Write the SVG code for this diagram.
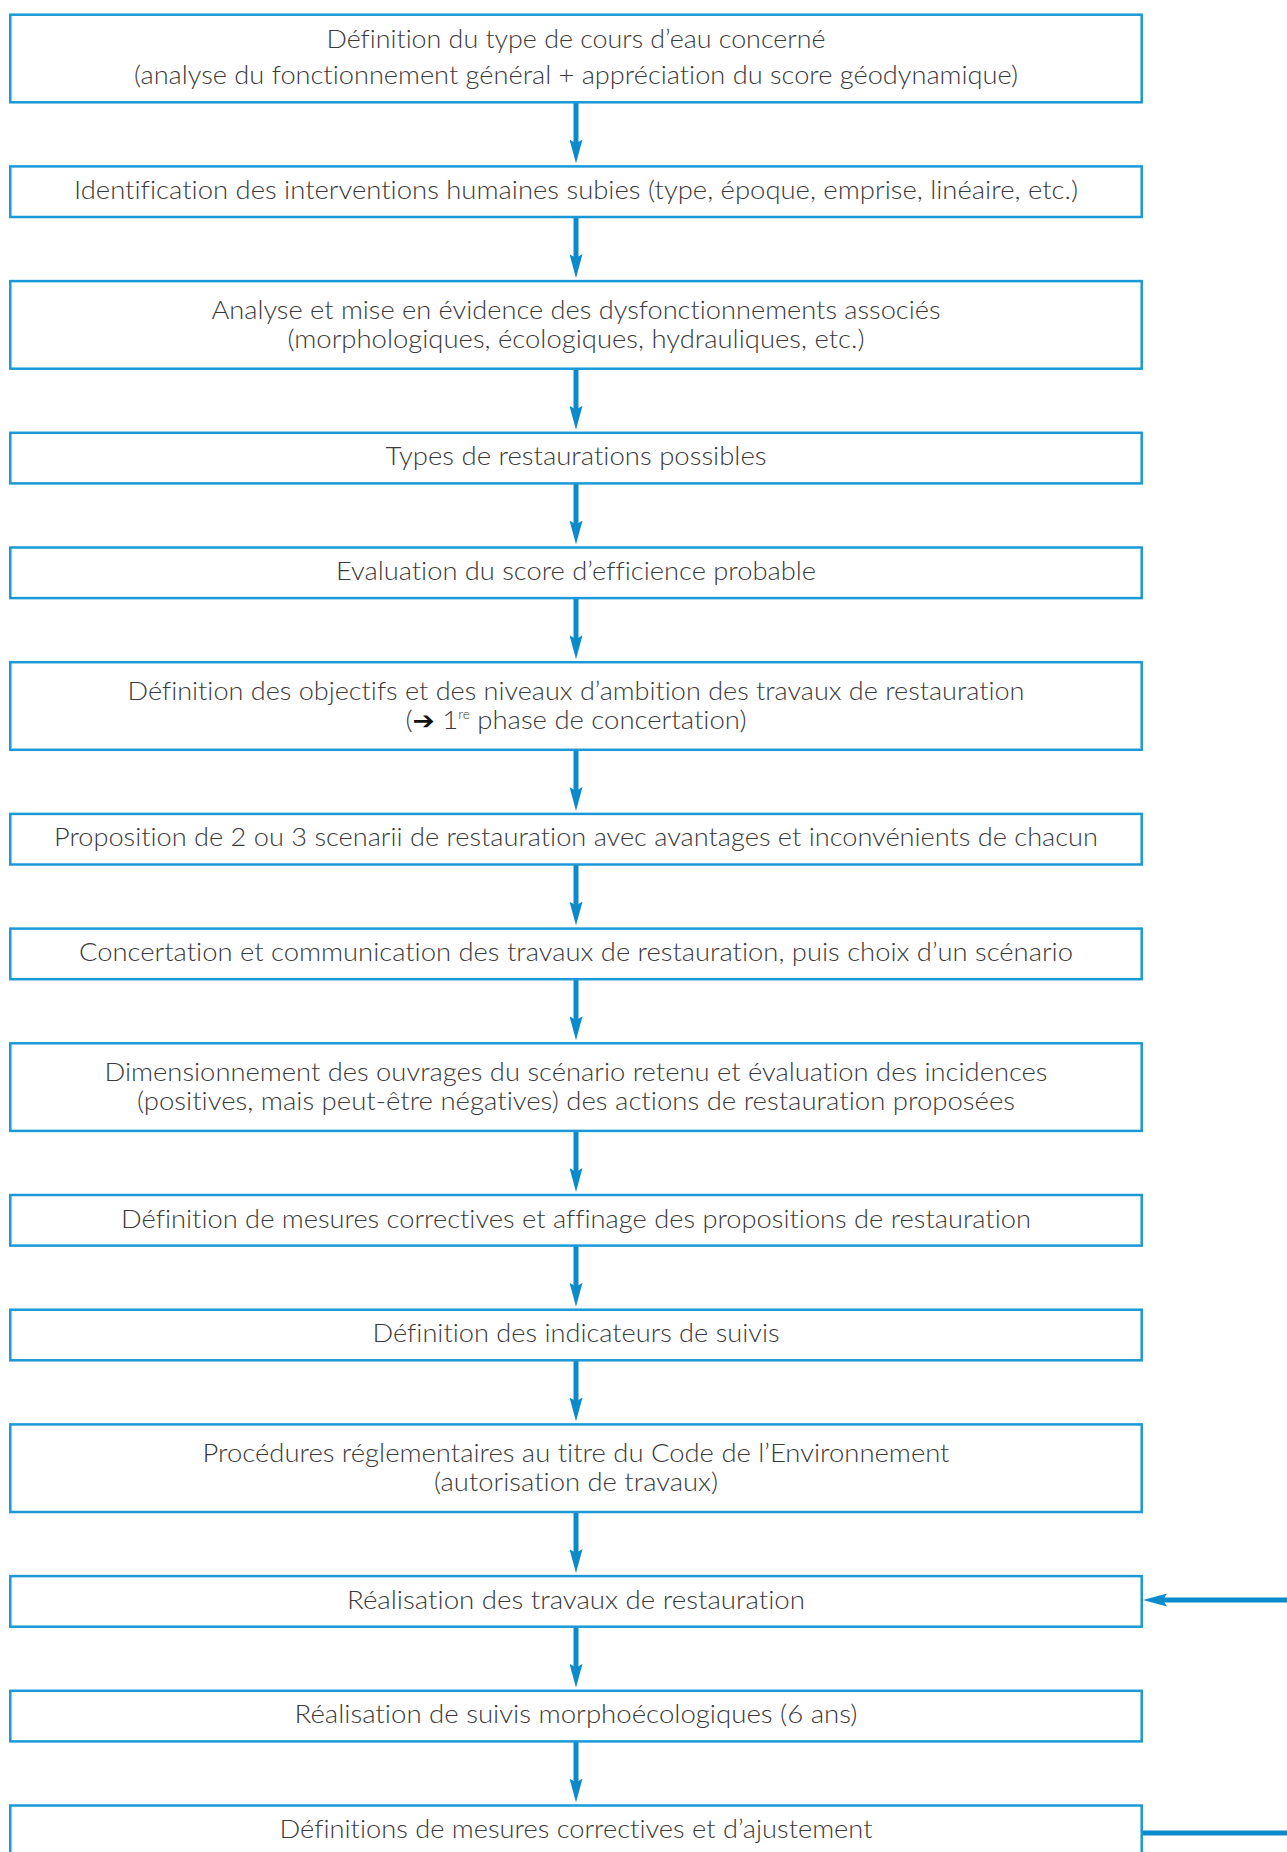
<svg xmlns="http://www.w3.org/2000/svg" width="1287" height="1852" viewBox="0 0 1287 1852">
<style>
.box{fill:#ffffff;stroke:#1a99d6;stroke-width:2.5}
.t{font-family:Lato,"Liberation Sans",sans-serif;font-weight:300;font-size:26px;fill:#3a3a3a;text-anchor:middle;font-variant-ligatures:none}
.c{stroke:#0b8bcb;stroke-width:5;fill:none}
.arr{font-family:"DejaVu Sans",sans-serif;font-weight:bold;font-size:25px;fill:#111111}
.sup{font-size:13px}
</style>
<defs>
<marker id="ah" markerUnits="userSpaceOnUse" markerWidth="24" markerHeight="13" viewBox="0 0 24 13" refX="7" refY="6.5" orient="auto">
<path d="M0,0 L24,6.5 L0,13 L4,6.5 Z" fill="#0b8bcb"/>
</marker>
</defs>
<rect width="1287" height="1852" fill="#ffffff"/>
<g id="connectors">
<line class="c" x1="576" y1="101" x2="576" y2="146.4" marker-end="url(#ah)"/>
<line class="c" x1="576" y1="216" x2="576" y2="261.1" marker-end="url(#ah)"/>
<line class="c" x1="576" y1="367.5" x2="576" y2="412.8" marker-end="url(#ah)"/>
<line class="c" x1="576" y1="482.2" x2="576" y2="527.5" marker-end="url(#ah)"/>
<line class="c" x1="576" y1="597" x2="576" y2="642.2" marker-end="url(#ah)"/>
<line class="c" x1="576" y1="748.6" x2="576" y2="793.9" marker-end="url(#ah)"/>
<line class="c" x1="576" y1="863.3" x2="576" y2="908.6" marker-end="url(#ah)"/>
<line class="c" x1="576" y1="978" x2="576" y2="1023.3" marker-end="url(#ah)"/>
<line class="c" x1="576" y1="1129.7" x2="576" y2="1175" marker-end="url(#ah)"/>
<line class="c" x1="576" y1="1244.4" x2="576" y2="1289.7" marker-end="url(#ah)"/>
<line class="c" x1="576" y1="1359.1" x2="576" y2="1404.4" marker-end="url(#ah)"/>
<line class="c" x1="576" y1="1510.8" x2="576" y2="1556.1" marker-end="url(#ah)"/>
<line class="c" x1="576" y1="1625.5" x2="576" y2="1670.8" marker-end="url(#ah)"/>
<line class="c" x1="576" y1="1740.2" x2="576" y2="1785.5" marker-end="url(#ah)"/>
<line class="c" x1="1295" y1="1600" x2="1160" y2="1600" marker-end="url(#ah)"/>
<line class="c" x1="1142" y1="1833" x2="1295" y2="1833"/>
</g>
<g id="n1"><rect class="box" x="10.3" y="14.7" width="1131.4" height="87.6"/>
<text class="t" x="576" y="48.3" textLength="499" lengthAdjust="spacingAndGlyphs">Définition du type de cours d’eau concerné</text>
<text class="t" x="576" y="84" textLength="884" lengthAdjust="spacingAndGlyphs">(analyse du fonctionnement général + appréciation du score géodynamique)</text></g>
<g id="n2"><rect class="box" x="10.3" y="166.4" width="1131.4" height="50.6"/>
<text class="t" x="576" y="198.9" textLength="1004" lengthAdjust="spacingAndGlyphs">Identification des interventions humaines subies (type, époque, emprise, linéaire, etc.)</text></g>
<g id="n3"><rect class="box" x="10.3" y="281.1" width="1131.4" height="87.6"/>
<text class="t" x="576" y="318.8" textLength="729" lengthAdjust="spacingAndGlyphs">Analyse et mise en évidence des dysfonctionnements associés</text>
<text class="t" x="576" y="347.8" textLength="577" lengthAdjust="spacingAndGlyphs">(morphologiques, écologiques, hydrauliques, etc.)</text></g>
<g id="n4"><rect class="box" x="10.3" y="432.8" width="1131.4" height="50.6"/>
<text class="t" x="576" y="465.3" textLength="381" lengthAdjust="spacingAndGlyphs">Types de restaurations possibles</text></g>
<g id="n5"><rect class="box" x="10.3" y="547.5" width="1131.4" height="50.6"/>
<text class="t" x="576" y="580" textLength="480" lengthAdjust="spacingAndGlyphs">Evaluation du score d’efficience probable</text></g>
<g id="n6"><rect class="box" x="10.3" y="662.2" width="1131.4" height="87.6"/>
<text class="t" x="576" y="699.9" textLength="897" lengthAdjust="spacingAndGlyphs">Définition des objectifs et des niveaux d’ambition des travaux de restauration</text>
<text class="t" x="576" y="728.9" textLength="341" lengthAdjust="spacingAndGlyphs">(<tspan class="arr">➔</tspan> 1<tspan class="sup" dy="-10">re</tspan><tspan dy="10"> phase de concertation)</tspan></text></g>
<g id="n7"><rect class="box" x="10.3" y="813.9" width="1131.4" height="50.6"/>
<text class="t" x="576" y="846.4" textLength="1044" lengthAdjust="spacingAndGlyphs">Proposition de 2 ou 3 scenarii de restauration avec avantages et inconvénients de chacun</text></g>
<g id="n8"><rect class="box" x="10.3" y="928.6" width="1131.4" height="50.6"/>
<text class="t" x="576" y="961.1" textLength="994" lengthAdjust="spacingAndGlyphs">Concertation et communication des travaux de restauration, puis choix d’un scénario</text></g>
<g id="n9"><rect class="box" x="10.3" y="1043.3" width="1131.4" height="87.6"/>
<text class="t" x="576" y="1081" textLength="943" lengthAdjust="spacingAndGlyphs">Dimensionnement des ouvrages du scénario retenu et évaluation des incidences</text>
<text class="t" x="576" y="1110" textLength="878" lengthAdjust="spacingAndGlyphs">(positives, mais peut-être négatives) des actions de restauration proposées</text></g>
<g id="n10"><rect class="box" x="10.3" y="1195" width="1131.4" height="50.6"/>
<text class="t" x="576" y="1227.5" textLength="910" lengthAdjust="spacingAndGlyphs">Définition de mesures correctives et affinage des propositions de restauration</text></g>
<g id="n11"><rect class="box" x="10.3" y="1309.7" width="1131.4" height="50.6"/>
<text class="t" x="576" y="1342.2" textLength="407" lengthAdjust="spacingAndGlyphs">Définition des indicateurs de suivis</text></g>
<g id="n12"><rect class="box" x="10.3" y="1424.4" width="1131.4" height="87.6"/>
<text class="t" x="576" y="1462.1" textLength="747" lengthAdjust="spacingAndGlyphs">Procédures réglementaires au titre du Code de l’Environnement</text>
<text class="t" x="576" y="1491.1" textLength="284" lengthAdjust="spacingAndGlyphs">(autorisation de travaux)</text></g>
<g id="n13"><rect class="box" x="10.3" y="1576.1" width="1131.4" height="50.6"/>
<text class="t" x="576" y="1608.6" textLength="458" lengthAdjust="spacingAndGlyphs">Réalisation des travaux de restauration</text></g>
<g id="n14"><rect class="box" x="10.3" y="1690.8" width="1131.4" height="50.6"/>
<text class="t" x="576" y="1723.3" textLength="563" lengthAdjust="spacingAndGlyphs">Réalisation de suivis morphoécologiques (6 ans)</text></g>
<g id="n15"><rect class="box" x="10.3" y="1805.5" width="1131.4" height="60"/>
<text class="t" x="576" y="1838" textLength="593" lengthAdjust="spacingAndGlyphs">Définitions de mesures correctives et d’ajustement</text></g>
</svg>
